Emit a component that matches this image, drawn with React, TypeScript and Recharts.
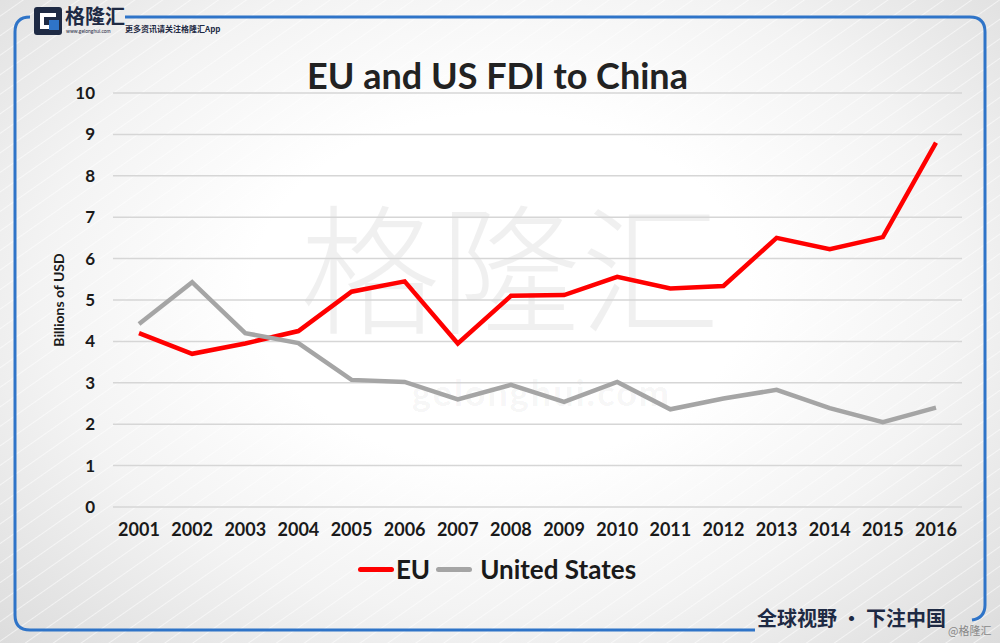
import React from "react";
import { LineChart, Line, XAxis, YAxis, CartesianGrid, Legend } from "recharts";

const years = ["2001","2002","2003","2004","2005","2006","2007","2008","2009","2010","2011","2012","2013","2014","2015","2016"];
const euValues = [4.2, 3.7, 3.95, 4.25, 5.2, 5.45, 3.95, 5.1, 5.12, 5.56, 5.28, 5.34, 6.5, 6.23, 6.52, 8.8];
const usValues = [4.42, 5.43, 4.2, 3.96, 3.07, 3.02, 2.6, 2.95, 2.54, 3.02, 2.36, 2.62, 2.83, 2.39, 2.05, 2.4];
const yTicks = [0, 1, 2, 3, 4, 5, 6, 7, 8, 9, 10];

const seriesNames = { eu: "EU", us: "United States" };
const data = years.map((y, i) => ({ year: y, eu: euValues[i], us: usValues[i] }));

const FONT = "Lato, 'Open Sans', sans-serif";

const renderLegend = (props: any) => {
  const { payload } = props;
  return (
    <div style={{ display: "flex", justifyContent: "center", alignItems: "center", fontFamily: FONT, fontWeight: 700, fontSize: 26, color: "#1a1a1a", marginLeft: -6 }}>
      {payload.map((p: any, i: number) => (
        <div key={i} style={{ display: "flex", alignItems: "center", marginRight: i === 0 ? 6 : 0 }}>
          <div style={{ width: 36, height: 5, background: p.color, borderRadius: 3, marginRight: i === 0 ? 2 : 8 }} />
          <span>{p.value}</span>
        </div>
      ))}
    </div>
  );
};

export default function App() {
  return (
    <div style={{ position: "absolute", left: 0, top: 0, width: 1000, height: 643, overflow: "hidden",
      background: "radial-gradient(ellipse at 50% 45%, #ffffff 35%, #f3f3f3 65%, #dcdcdc 100%)" }}>
      <style>{`body{margin:0}`}</style>
      <div style={{ position: "absolute", inset: 0,
        background: "repeating-linear-gradient(-35deg, rgba(255,255,255,0) 0px, rgba(255,255,255,0) 14px, rgba(255,255,255,0.55) 15px, rgba(255,255,255,0) 16px)" }} />
      {/* frame */}
      <svg width={1000} height={643} style={{ position: "absolute", left: 0, top: 0 }}>
        <path d="M 30 17 Q 15 17 15 32 L 15 615 Q 15 630 30 630 L 755 630" fill="none" stroke="#2f74c8" strokeWidth={3} />
        <path d="M 125 17 L 970 17 Q 985 17 985 32 L 985 605 Q 985 618 972 620" fill="none" stroke="#2f74c8" strokeWidth={3} />
      </svg>
      {/* logo */}
      <div style={{ position: "absolute", left: 34, top: 7, width: 28, height: 28, background: "#1e2a44", borderRadius: 3 }}>
        <div style={{ position: "absolute", left: 6, top: 6, width: 16, height: 16, border: "4px solid #fff", borderRight: "none", boxSizing: "border-box" }} />
        <div style={{ position: "absolute", left: 15, top: 13, width: 10, height: 10, background: "#2f74c8" }} />
      </div>
      <div style={{ position: "absolute", left: 65, top: 4, fontFamily: "'Noto Sans CJK SC'", fontWeight: 700, fontSize: 20, color: "#1e2a44", lineHeight: "24px" }}>格隆汇</div>
      <div style={{ position: "absolute", left: 66, top: 28, fontFamily: FONT, fontSize: 5, color: "#1e2a44" }}>www.gelonghui.com</div>
      <div style={{ position: "absolute", left: 125, top: 23, fontFamily: "'Noto Sans CJK SC'", fontWeight: 700, fontSize: 8, color: "#1e2a44" }}>更多资讯请关注格隆汇App</div>
      {/* watermark */}
      <div style={{ position: "absolute", left: 300, top: 192, fontFamily: "'Noto Sans CJK SC'", fontWeight: 300, fontSize: 140, color: "rgba(0,0,0,0.06)", letterSpacing: 0, lineHeight: "140px" }}>格隆汇</div>
      <div style={{ position: "absolute", left: 412, top: 372, fontFamily: FONT, fontWeight: 700, fontSize: 36, color: "rgba(0,0,0,0.05)", letterSpacing: 2, lineHeight: "40px" }}>gelonghui.com</div>
      {/* title */}
      <div style={{ position: "absolute", left: 0, width: 995, top: 53, textAlign: "center", fontFamily: FONT, fontWeight: 700, fontSize: 36, color: "#222" }}>EU and US FDI to China</div>
      {/* y label */}
      <div style={{ position: "absolute", left: 58, top: 300, transform: "translate(-50%,-50%) rotate(-90deg)", fontFamily: FONT, fontWeight: 700, fontSize: 14, color: "#1a1a1a", whiteSpace: "nowrap" }}>Billions of USD</div>
      <div style={{ position: "absolute", left: 0, top: 0 }}>
        <LineChart width={1000} height={643} data={data} margin={{ top: 93, right: 38, bottom: 96, left: 58 }}>
          <CartesianGrid vertical={false} stroke="#d6d6d6" strokeWidth={1.5} />
          <XAxis dataKey="year" axisLine={false} tickLine={false} tickSize={0} tickMargin={16} height={40}
            padding={{ left: 26, right: 26 }}
            tick={{ fontFamily: FONT, fontWeight: 700, fontSize: 18, fill: "#1a1a1a" }} interval={0} />
          <YAxis domain={[0, 10]} ticks={yTicks} axisLine={false} tickLine={false} tickSize={0} tickMargin={18} width={55}
            tick={{ fontFamily: FONT, fontWeight: 700, fontSize: 17, fill: "#1a1a1a" }} />
          <Legend layout="horizontal" verticalAlign="middle" align="center" content={renderLegend}
            wrapperStyle={{ top: 553, left: 0, width: 1000 }} />
          <Line type="linear" dataKey="eu" name={seriesNames.eu} stroke="#ff0000" strokeWidth={4.5} dot={false} isAnimationActive={false} />
          <Line type="linear" dataKey="us" name={seriesNames.us} stroke="#a5a5a5" strokeWidth={4.5} dot={false} isAnimationActive={false} />
        </LineChart>
      </div>
      {/* footer */}
      <div style={{ position: "absolute", left: 757, top: 604, fontFamily: "'Noto Sans CJK SC'", fontWeight: 700, fontSize: 20, color: "#1e2a44", lineHeight: "28px" }}>全球视野 · 下注中国</div>
      <div style={{ position: "absolute", left: 948, top: 622, fontFamily: "'Noto Sans CJK SC'", fontSize: 11, color: "#888", lineHeight: "16px" }}>@格隆汇</div>
    </div>
  );
}
